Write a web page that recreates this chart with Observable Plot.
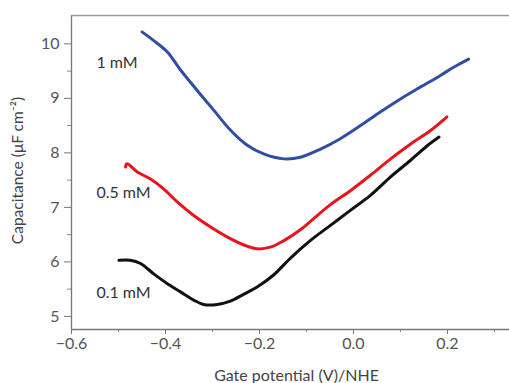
<!DOCTYPE html>
<html><head><meta charset="utf-8">
<script src="https://cdn.jsdelivr.net/npm/d3@7"></script>
<script src="https://cdn.jsdelivr.net/npm/@observablehq/plot@0.6"></script>
<style>
body{margin:0;background:#fff;}
#chart svg{font-family:Lato,"Open Sans",sans-serif;}
</style>
</head><body><div id="chart"></div>
<script>
// Data
const seriesNames = ["1 mM", "0.5 mM", "0.1 mM"];
const seriesColors = ["#2f4fa3", "#e8141c", "#111111"];

const potential1mM = [-0.450, -0.425, -0.396, -0.368, -0.333, -0.297, -0.262, -0.226, -0.191, -0.148, -0.113, -0.070, -0.028, 0.015, 0.057, 0.100, 0.143, 0.185, 0.213, 0.245];
const capacitance1mM = [10.22, 10.06, 9.85, 9.52, 9.15, 8.78, 8.42, 8.14, 7.98, 7.89, 7.92, 8.07, 8.26, 8.50, 8.75, 8.99, 9.21, 9.42, 9.57, 9.72];

const potential05mM = [-0.485, -0.482, -0.460, -0.432, -0.404, -0.375, -0.340, -0.304, -0.269, -0.233, -0.205, -0.177, -0.148, -0.113, -0.092, -0.049, -0.006, 0.036, 0.079, 0.121, 0.164, 0.199];
const capacitance05mM = [7.74, 7.80, 7.65, 7.52, 7.34, 7.10, 6.85, 6.64, 6.46, 6.31, 6.24, 6.27, 6.39, 6.59, 6.74, 7.05, 7.31, 7.59, 7.89, 8.16, 8.41, 8.66];

const potential01mM = [-0.499, -0.475, -0.453, -0.425, -0.396, -0.368, -0.340, -0.319, -0.290, -0.262, -0.233, -0.205, -0.170, -0.134, -0.092, -0.049, -0.006, 0.036, 0.079, 0.121, 0.157, 0.182];
const capacitance01mM = [6.03, 6.03, 5.97, 5.78, 5.60, 5.45, 5.30, 5.22, 5.22, 5.28, 5.41, 5.54, 5.76, 6.07, 6.39, 6.67, 6.95, 7.22, 7.56, 7.86, 8.13, 8.29];

const labelPotential = [-0.547, -0.547, -0.547];
const labelCapacitance = [9.66, 7.26, 5.44];

const xTicks = [-0.6, -0.4, -0.2, 0.0, 0.2];
const xMinorTicks = [-0.5, -0.3, -0.1, 0.1, 0.3];
const yTicks = [5, 6, 7, 8, 9, 10];
const yMinorTicks = [5.5, 6.5, 7.5, 8.5, 9.5];
const xDomain = [-0.6, 0.332];
const yDomain = [4.76, 10.52];

const xTitle = "Gate potential (V)/NHE";
const yTitle = "Capacitance (μF cm⁻²)";

const rows = [];
[[potential1mM, capacitance1mM], [potential05mM, capacitance05mM], [potential01mM, capacitance01mM]].forEach(([xs, ys], i) => {
  xs.forEach((x, j) => rows.push({series: seriesNames[i], x, y: ys[j]}));
});
const labels = seriesNames.map((s, i) => ({s, x: labelPotential[i], y: labelCapacitance[i]}));

const fmt = d => (d < 0 ? "\u2212" : "") + Math.abs(d).toFixed(1);

const chart = Plot.plot({
  width: 509,
  height: 383,
  marginLeft: 71,
  marginRight: 0,
  marginTop: 15,
  marginBottom: 54,
  style: {color: "#555", background: "#fff"},
  x: {domain: xDomain},
  y: {domain: yDomain},
  color: {domain: seriesNames, range: seriesColors},
  marks: [
    Plot.axisX(xTicks, {tickSize: 5, tickPadding: 3, fontSize: 16, tickFormat: fmt, label: null, stroke: "#777"}),
    Plot.axisX(xMinorTicks, {tickSize: 3, text: null, label: null, stroke: "#888"}),
    Plot.axisY(yTicks, {tickSize: 7, tickPadding: 5, fontSize: 16, tickFormat: d => String(d), label: null, stroke: "#777"}),
    Plot.axisY(yMinorTicks, {tickSize: 4, text: null, label: null, stroke: "#888"}),
    Plot.ruleX([xDomain[0]], {stroke: "#777", strokeWidth: 1.3}),
    Plot.ruleY([yDomain[0]], {stroke: "#777", strokeWidth: 1.3}),
    Plot.ruleY([yDomain[1]], {stroke: "#999", strokeWidth: 1.3}),
    Plot.line(rows, {x: "x", y: "y", z: "series", stroke: "series", strokeWidth: 3, strokeLinejoin: "round", curve: "catmull-rom"}),
    Plot.text(labels, {x: "x", y: "y", text: "s", textAnchor: "start", fontSize: 16, fill: "#333"}),
    Plot.text([xTitle], {frameAnchor: "bottom", textAnchor: "middle", lineAnchor: "middle", dx: 6, dy: 46, fontSize: 16, fill: "#444"}),
    Plot.text([yTitle], {frameAnchor: "left", textAnchor: "middle", lineAnchor: "middle", dx: -53, dy: -2, rotate: -90, fontSize: 15.5, fill: "#444"})
  ]
});
document.getElementById("chart").appendChild(chart);
</script>
</body></html>
